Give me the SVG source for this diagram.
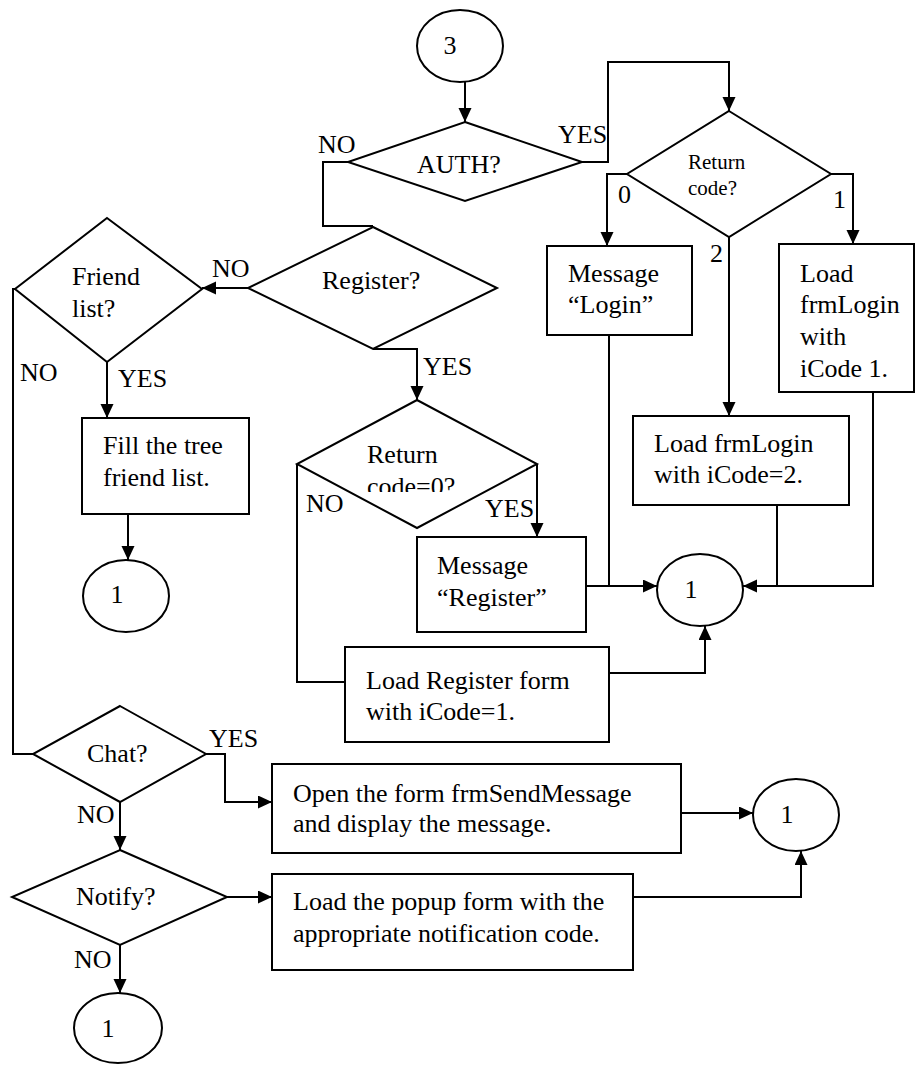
<svg xmlns="http://www.w3.org/2000/svg" width="915" height="1065" viewBox="0 0 915 1065">
  <style>
    .shape { fill: #ffffff; stroke: #000000; stroke-width: 2; }
    .ln { fill: none; stroke: #000000; stroke-width: 2; }
    .arr { marker-end: url(#arrow); }
    text { font-family: "Liberation Serif", "Times New Roman", serif; font-size: 26px; fill: #000000; }
    .sm { font-size: 21px; }
    .mid { text-anchor: middle; }
  </style>
  <defs>
    <marker id="arrow" markerUnits="userSpaceOnUse" markerWidth="14" markerHeight="14" refX="14" refY="6.5" orient="auto">
      <path d="M0,0 L14,6.5 L0,13 z" fill="#000000"/>
    </marker>
    <clipPath id="rc0clip">
      <rect x="300" y="420" width="230" height="72"/>
    </clipPath>
  </defs>

  <rect width="915" height="1065" fill="#ffffff"/>

  <!-- connectors -->
  <g id="connectors">
    <path class="ln arr" d="M465,82 V122"/>
    <path class="ln arr" d="M582,162 H608 V62 H729 V111"/>
    <path class="ln" d="M348,162 H323 V226 H373"/>
    <path class="ln arr" d="M627,174 H607 V246"/>
    <path class="ln arr" d="M831,174 H853 V244"/>
    <path class="ln arr" d="M729,237 V416"/>
    <path class="ln arr" d="M248,288 H202"/>
    <path class="ln arr" d="M373,349 H417 V400"/>
    <path class="ln arr" d="M107,362 V418"/>
    <path class="ln" d="M15,289 H13 V754 H33"/>
    <path class="ln arr" d="M128,514 V560"/>
    <path class="ln arr" d="M537,464 V537"/>
    <path class="ln" d="M297,464 V682 H345"/>
    <path class="ln arr" d="M586,586 H657"/>
    <path class="ln" d="M609,335 V586"/>
    <path class="ln" d="M777,505 V586"/>
    <path class="ln arr" d="M873,392 V586 H743"/>
    <path class="ln arr" d="M609,673 H705 V626"/>
    <path class="ln arr" d="M206,754 H225 V802 H272"/>
    <path class="ln arr" d="M120,802 V850"/>
    <path class="ln arr" d="M681,813 H753"/>
    <path class="ln arr" d="M227,897 H272"/>
    <path class="ln arr" d="M633,897 H801 V851"/>
    <path class="ln arr" d="M120,945 V993"/>
  </g>

  <!-- connector labels -->
  <g id="labels">
    <text x="318" y="153">NO</text>
    <text x="558" y="143">YES</text>
    <text x="618" y="203">0</text>
    <text x="833" y="208">1</text>
    <text x="710" y="262">2</text>
    <text x="212" y="277">NO</text>
    <text x="20" y="381">NO</text>
    <text x="118" y="387">YES</text>
    <text x="423" y="375">YES</text>
    <text x="306" y="512">NO</text>
    <text x="485" y="517">YES</text>
    <text x="209" y="747">YES</text>
    <text x="77" y="823">NO</text>
    <text x="74" y="968">NO</text>
  </g>

  <g id="start3">
    <ellipse class="shape" cx="460" cy="46" rx="43" ry="36"/>
    <text class="mid" x="450" y="54">3</text>
  </g>

  <g id="auth">
    <polygon class="shape" points="465,122 582,162 465,201 348,162"/>
    <text x="417" y="173">AUTH?</text>
  </g>

  <g id="returnCode">
    <polygon class="shape" points="729,111 831,174 729,237 627,174"/>
    <text class="sm" x="688" y="169">Return</text>
    <text class="sm" x="688" y="195">code?</text>
  </g>

  <g id="msgLogin">
    <rect class="shape" x="547" y="246" width="145" height="89"/>
    <text x="568" y="282">Message</text>
    <text x="568" y="313">“Login”</text>
  </g>

  <g id="loadLogin1">
    <rect class="shape" x="779" y="244" width="135" height="148"/>
    <text x="800" y="282">Load</text>
    <text x="800" y="313">frmLogin</text>
    <text x="800" y="345">with</text>
    <text x="800" y="377">iCode 1.</text>
  </g>

  <g id="loadLogin2">
    <rect class="shape" x="633" y="416" width="216" height="89"/>
    <text x="654" y="452">Load frmLogin</text>
    <text x="654" y="483">with iCode=2.</text>
  </g>

  <g id="register">
    <polygon class="shape" points="373,227 497,288 373,349 248,288"/>
    <text x="322" y="289">Register?</text>
  </g>

  <g id="friendList">
    <polygon class="shape" points="107,218 202,289 107,362 15,289"/>
    <text x="72" y="285">Friend</text>
    <text x="72" y="317">list?</text>
  </g>

  <g id="fillTree">
    <rect class="shape" x="82" y="418" width="167" height="96"/>
    <text x="103" y="454">Fill the tree</text>
    <text x="103" y="486">friend list.</text>
  </g>

  <g id="end1a">
    <ellipse class="shape" cx="126" cy="596" rx="43" ry="36"/>
    <text class="mid" x="117" y="603">1</text>
  </g>

  <g id="returnCode0">
    <polygon class="shape" points="417,400 537,464 417,528 297,464"/>
    <g clip-path="url(#rc0clip)">
      <text x="367" y="463">Return</text>
      <text x="367" y="495">code=0?</text>
    </g>
  </g>

  <g id="msgRegister">
    <rect class="shape" x="417" y="537" width="169" height="95"/>
    <text x="437" y="574">Message</text>
    <text x="437" y="606">“Register”</text>
  </g>

  <g id="end1b">
    <ellipse class="shape" cx="700" cy="590" rx="43" ry="36"/>
    <text class="mid" x="691" y="598">1</text>
  </g>

  <g id="loadRegister">
    <rect class="shape" x="345" y="647" width="264" height="95"/>
    <text x="366" y="689">Load Register form</text>
    <text x="366" y="720">with iCode=1.</text>
  </g>

  <g id="chat">
    <polygon class="shape" points="120,706 206,754 120,802 33,754"/>
    <text x="87" y="762">Chat?</text>
  </g>

  <g id="openForm">
    <rect class="shape" x="272" y="764" width="409" height="89"/>
    <text x="293" y="802">Open the form frmSendMessage</text>
    <text x="293" y="832">and display the message.</text>
  </g>

  <g id="end1c">
    <ellipse class="shape" cx="796" cy="815" rx="43" ry="36"/>
    <text class="mid" x="787" y="823">1</text>
  </g>

  <g id="notify">
    <polygon class="shape" points="120,850 227,897 120,945 12,897"/>
    <text x="76" y="905">Notify?</text>
  </g>

  <g id="loadPopup">
    <rect class="shape" x="272" y="874" width="361" height="96"/>
    <text x="293" y="910">Load the popup form with the</text>
    <text x="293" y="942">appropriate notification code.</text>
  </g>

  <g id="end1d">
    <ellipse class="shape" cx="118" cy="1028" rx="44" ry="35"/>
    <text class="mid" x="108" y="1037">1</text>
  </g>
</svg>
